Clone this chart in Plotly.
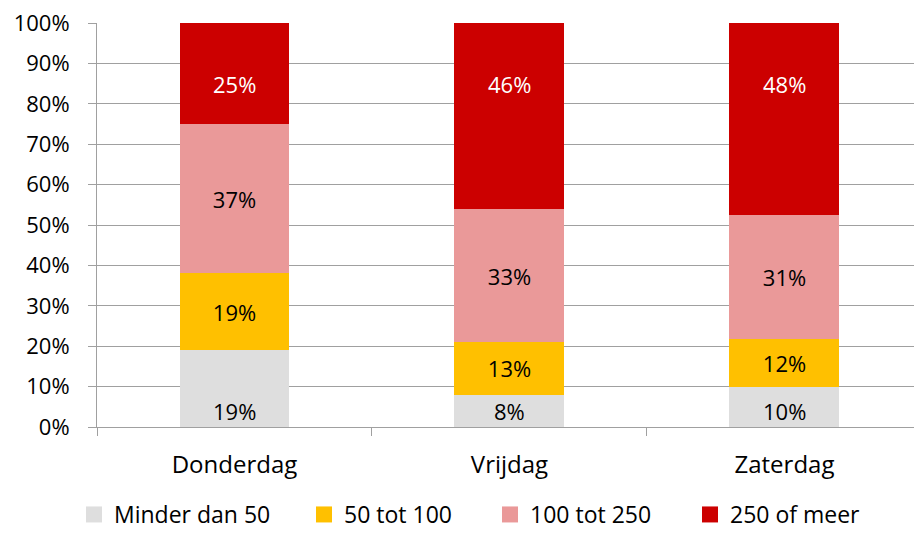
import plotly.graph_objects as go

# Share of visitors per day, split by group size
days = ["Donderdag", "Vrijdag", "Zaterdag"]
series_names = ["Minder dan 50", "50 tot 100", "100 tot 250", "250 of meer"]
minder_dan_50 = [19, 8, 10]
tot_100 = [19, 13, 12]
tot_250 = [37, 33, 31]
of_meer = [25, 46, 48]
y_ticks = [0, 10, 20, 30, 40, 50, 60, 70, 80, 90, 100]

series_values = [minder_dan_50, tot_100, tot_250, of_meer]
colors = ["#DEDEDE", "#FFC000", "#EA9999", "#CC0000"]
font_family = "Open Sans"

# one single-entry legend per series, spread along the bottom edge
legend_left = [74, 304, 490, 690]
fig_w, fig_h = 914, 536

fig = go.Figure()

# stacked bars, normalised per day; the middle segments carry centred labels
for i, (name, vals, col) in enumerate(zip(series_names, series_values, colors)):
    middle = i in (1, 2)
    legend_id = "legend" if i == 0 else f"legend{i + 1}"
    fig.add_trace(go.Bar(
        x=days, y=vals, name=name, marker=dict(color=col, line=dict(width=0)),
        width=0.4, showlegend=False,
        text=[f"{v}%" for v in vals] if middle else None,
        textposition="inside" if middle else "none", insidetextanchor="middle",
        textangle=0, textfont=dict(family=font_family, size=22, color="#000000"),
        hoverinfo="skip",
    ))
    # legend entry with a square swatch
    fig.add_trace(go.Scatter(
        x=[None], y=[None], mode="markers", name=name, legend=legend_id,
        marker=dict(symbol="square", size=16, color=col),
    ))
    fig.update_layout({legend_id: dict(
        orientation="h", xref="container", x=legend_left[i] / fig_w, xanchor="left",
        yref="container", y=-0.004, yanchor="bottom",
        font=dict(family=font_family, size=23, color="#000000"),
        itemwidth=30, bgcolor="rgba(0,0,0,0)",
    )})

# bottom labels sit just above the base, top labels a little below the top
for j, day in enumerate(days):
    fig.add_annotation(
        x=day, y=4, text=f"{minder_dan_50[j]}%", showarrow=False,
        font=dict(family=font_family, size=22, color="#000000"),
    )
    fig.add_annotation(
        x=day, y=100 - 15, text=f"{of_meer[j]}%", showarrow=False,
        font=dict(family=font_family, size=22, color="#FFFFFF"),
    )

grid = "#A0A0A0"
fig.update_layout(
    barmode="stack", barnorm="percent",
    width=fig_w, height=fig_h,
    margin=dict(l=97, r=0, t=23, b=109),
    paper_bgcolor="white", plot_bgcolor="white",
    font=dict(family=font_family, size=22, color="#000000"),
    xaxis=dict(range=[-0.5, 2.471], showline=True, linecolor=grid, linewidth=1,
               ticks="outside", tickson="boundaries", ticklen=8, tickcolor=grid,
               tickfont=dict(size=24),
               ticklabelstandoff=16, showgrid=False, fixedrange=True),
    yaxis=dict(range=[0, 100], tickvals=y_ticks, ticktext=[f"{t}%" for t in y_ticks],
               showline=True, linecolor=grid, linewidth=1, showgrid=True, gridcolor=grid,
               gridwidth=1, ticks="outside", ticklen=8, tickcolor=grid,
               ticklabelstandoff=14, zeroline=False, fixedrange=True),
)

fig.write_html("out.html")
